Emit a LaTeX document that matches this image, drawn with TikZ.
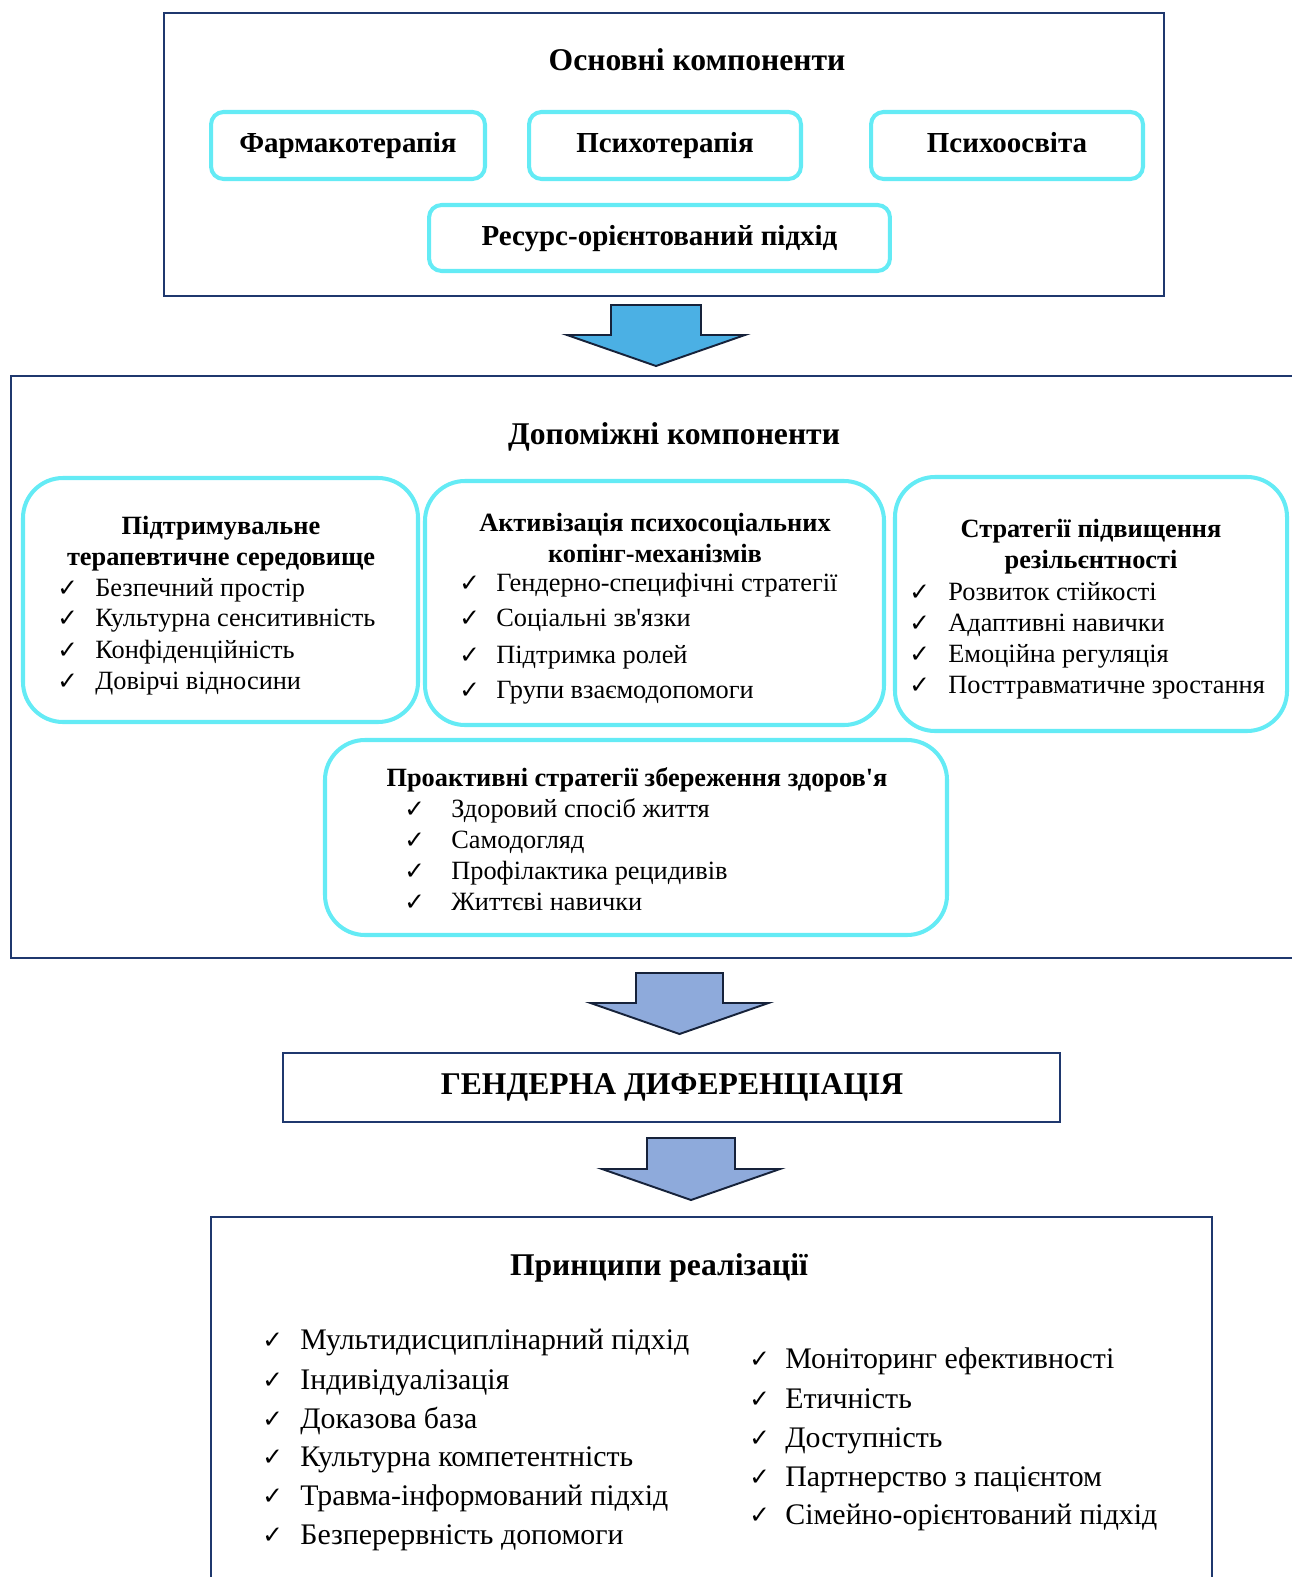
\documentclass[tikz,border=0pt]{standalone}
\usepackage{fontspec}
\setmainfont{Liberation Serif}
\newfontfamily\chkfont{DejaVu Sans}
\usepackage{xcolor}
\usetikzlibrary{positioning,fit}
\definecolor{navy}{RGB}{31,56,110}
\definecolor{aqua}{RGB}{100,235,245}
\definecolor{skyarrow}{RGB}{75,176,228}
\definecolor{paleblue}{RGB}{142,170,219}
\definecolor{arrowline}{RGB}{22,34,58}

\begin{document}
\begin{tikzpicture}[x=0.02cm,y=-0.02cm,
  frame/.style={draw=navy,line width=1.1pt,inner sep=0pt},
  pill/.style={draw=aqua,line width=2.3pt,rounded corners=0.25cm,inner sep=0pt,text height=12pt,text depth=4pt,font=\fontsize{16.5}{19}\selectfont\bfseries},
  bubble/.style={draw=aqua,line width=2.3pt,rounded corners=0.8cm,inner sep=0pt},
  head/.style={inner sep=0pt,yshift=-2.3pt,font=\fontsize{18}{21}\selectfont\bfseries},
  subhead/.style={inner sep=0pt,yshift=-1.7pt,align=center,font=\fontsize{15}{17.6}\selectfont\bfseries},
  item/.style={anchor=west,inner sep=0pt,yshift=-1.7pt,text height=11pt,text depth=2pt,font=\fontsize{15}{18}\selectfont},
  bigitem/.style={anchor=west,inner sep=0pt,yshift=-1.7pt,text height=12.5pt,text depth=2.5pt,font=\fontsize{17}{20}\selectfont},
  tick/.style={anchor=west,inner sep=0pt,yshift=-1.7pt,text height=10pt,text depth=2pt,font=\chkfont\bfseries\fontsize{14}{16}\selectfont},
  blockarrow/.style={draw=arrowline,line width=1.1pt,line join=miter}
]
\useasboundingbox (0,0) rectangle (1291,1577);

% main components
\node[frame,fit={(164,13) (1164,296)}] (osn) {};
\node[head] (osnT) at (697,56) {Основні компоненти};
\node[pill,minimum width=5.48cm,minimum height=1.34cm] (farm) at (348,145.5) {Фармакотерапія};
\node[pill,minimum width=5.44cm,minimum height=1.34cm] (psyt) at (665,145.5) {Психотерапія};
\node[pill,minimum width=5.44cm,minimum height=1.34cm] (psyo) at (1007,145.5) {Психоосвіта};
\node[pill,minimum width=9.22cm,minimum height=1.32cm] (res) at (659.5,238) {Ресурс-орієнтований підхід};

% block arrows
\foreach \cx/\sw/\yt/\ys/\yb/\col in {656/45/305/335/366/skyarrow, 679.5/43.5/973/1003/1034/paleblue, 691/44/1138/1169/1200/paleblue} {
  \draw[blockarrow,fill=\col] (\cx-\sw,\yt) -- (\cx+\sw,\yt) -- (\cx+\sw,\ys) -- (\cx+89,\ys)
    -- (\cx,\yb) -- (\cx-89,\ys) -- (\cx-\sw,\ys) -- cycle;
}

% auxiliary components
\node[frame,fit={(11,376) (1310,958)}] (dop) {};
\node[head] (dopT) at (674,433) {Допоміжні компоненти};

\node[bubble,fit={(23,478) (418,722)}] (ser) {};
\node[subhead] (serT) at (221,540.5) {Підтримувальне\\терапевтичне середовище};
\foreach \t/\y [count=\i] in {Безпечний простір/586, Культурна сенситивність/616, Конфіденційність/648, Довірчі відносини/679} {
  \node[tick] (sk\i) at (57,\y) {✓};
  \node[item] (s\i) at (95,\y) {\t};
}

\node[bubble,fit={(425,481) (884,725)}] (kop) {};
\node[subhead] (kopT) at (655,535) {Активізація психосоціальних\\копінг-механізмів};
\foreach \t/\y [count=\i] in {Гендерно-специфічні стратегії/581, Соціальні зв\textquotesingle язки/616, Підтримка ролей/653, Групи взаємодопомоги/688} {
  \node[tick] (kk\i) at (459,\y) {✓};
  \node[item] (k\i) at (496,\y) {\t};
}

\node[bubble,fit={(895,477) (1287,731)}] (rez) {};
\node[subhead] (rezT) at (1091,544) {Стратегії підвищення\\резільєнтності};
\foreach \t/\y [count=\i] in {Розвиток стійкості/590, Адаптивні навички/621, Емоційна регуляція/652, Посттравматичне зростання/683} {
  \node[tick] (rk\i) at (909,\y) {✓};
  \node[item] (r\i) at (948,\y) {\t};
}

\node[bubble,fit={(325,740) (947,935)}] (pro) {};
\node[subhead] (proT) at (637,777) {Проактивні стратегії збереження здоров\textquotesingle я};
\foreach \t/\y [count=\i] in {Здоровий спосіб життя/807, Самодогляд/838, Профілактика рецидивів/869, Життєві навички/900} {
  \node[tick] (pk\i) at (404,\y) {✓};
  \node[item] (p\i) at (451,\y) {\t};
}

% gender differentiation
\node[frame,fit={(283,1053) (1060,1122)}] (gen) {};
\node[head] (genT) at (672,1083) {ГЕНДЕРНА ДИФЕРЕНЦІАЦІЯ};

% principles
\node[frame,fit={(211,1217) (1212,1600)}] (pri) {};
\node[head] (priT) at (659,1264) {Принципи реалізації};
\foreach \t/\y [count=\i] in {Мультидисциплінарний підхід/1338, Індивідуалізація/1378, Доказова база/1417, Культурна компетентність/1455, Травма-інформований підхід/1494, Безперервність допомоги/1533} {
  \node[tick] (lk\i) at (262,\y) {✓};
  \node[bigitem] (l\i) at (300,\y) {\t};
}
\foreach \t/\y [count=\i] in {Моніторинг ефективності/1357, Етичність/1397, Доступність/1436, Партнерство з пацієнтом/1475, Сімейно-орієнтований підхід/1513} {
  \node[tick] (qk\i) at (749,\y) {✓};
  \node[bigitem] (q\i) at (785,\y) {\t};
}
\end{tikzpicture}
\end{document}
